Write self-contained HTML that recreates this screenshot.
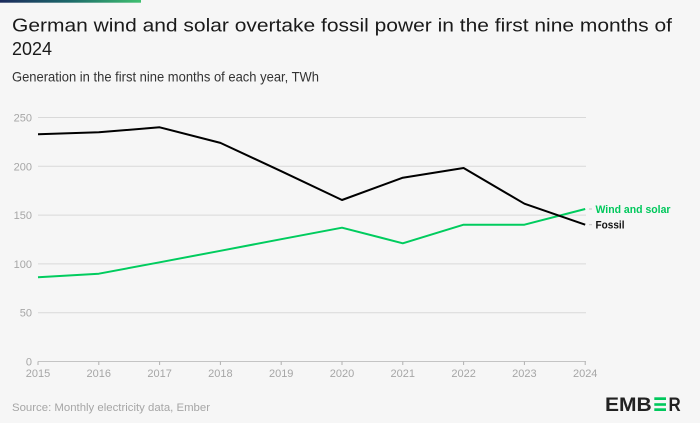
<!DOCTYPE html>
<html><head><meta charset="utf-8"><style>
html,body{margin:0;padding:0;background:#f6f6f6;}
svg{display:block;}
text{font-family:"Liberation Sans",sans-serif;}
</style></head><body>
<svg width="700" height="423" viewBox="0 0 700 423" xmlns="http://www.w3.org/2000/svg">
<defs><linearGradient id="g" x1="0" x2="1" y1="0" y2="0"><stop offset="0" stop-color="#1b2a5c"/><stop offset="0.5" stop-color="#1d6a6a"/><stop offset="1" stop-color="#3fc070"/></linearGradient></defs>
<rect width="700" height="423" fill="#f6f6f6"/>
<rect x="0" y="0" width="141" height="2.7" fill="url(#g)"/>
<text x="12" y="31.5" font-size="18" fill="#1a1a1a" textLength="660" lengthAdjust="spacingAndGlyphs">German wind and solar overtake fossil power in the first nine months of</text>
<text x="12" y="55" font-size="18" fill="#1a1a1a" textLength="40" lengthAdjust="spacingAndGlyphs">2024</text>
<text x="12" y="81.5" font-size="14" fill="#333" textLength="307" lengthAdjust="spacingAndGlyphs">Generation in the first nine months of each year, TWh</text>
<g stroke="#d9d9d9" stroke-width="1">
<line x1="38" x2="586" y1="117.5" y2="117.5"/>
<line x1="38" x2="586" y1="166.3" y2="166.3"/>
<line x1="38" x2="586" y1="215.1" y2="215.1"/>
<line x1="38" x2="586" y1="263.9" y2="263.9"/>
<line x1="38" x2="586" y1="312.7" y2="312.7"/>
</g>
<line x1="38" x2="586" y1="361.5" y2="361.5" stroke="#c4c4c4" stroke-width="1"/>
<g stroke="#b0b0b0" stroke-width="1">
<line x1="38" x2="38" y1="361.5" y2="365"/>
<line x1="98.8" x2="98.8" y1="361.5" y2="365"/>
<line x1="159.6" x2="159.6" y1="361.5" y2="365"/>
<line x1="220.4" x2="220.4" y1="361.5" y2="365"/>
<line x1="281.2" x2="281.2" y1="361.5" y2="365"/>
<line x1="342" x2="342" y1="361.5" y2="365"/>
<line x1="402.8" x2="402.8" y1="361.5" y2="365"/>
<line x1="463.6" x2="463.6" y1="361.5" y2="365"/>
<line x1="524.4" x2="524.4" y1="361.5" y2="365"/>
<line x1="585.2" x2="585.2" y1="361.5" y2="365"/>
</g>
<g font-size="11" fill="#a6a6a6" text-anchor="end">
<text x="32" y="121.5">250</text>
<text x="32" y="170.3">200</text>
<text x="32" y="219.1">150</text>
<text x="32" y="267.9">100</text>
<text x="32" y="316.7">50</text>
<text x="32" y="365.5">0</text>
</g>
<g font-size="11" fill="#a6a6a6" text-anchor="middle">
<text x="38" y="377">2015</text>
<text x="98.8" y="377">2016</text>
<text x="159.6" y="377">2017</text>
<text x="220.4" y="377">2018</text>
<text x="281.2" y="377">2019</text>
<text x="342" y="377">2020</text>
<text x="402.8" y="377">2021</text>
<text x="463.6" y="377">2022</text>
<text x="524.4" y="377">2023</text>
<text x="585.2" y="377">2024</text>
</g>
<polyline fill="none" stroke="#00cc5e" stroke-width="2" stroke-linejoin="round" points="38,277.3 98.8,273.7 159.6,262.3 220.4,250.8 281.2,239.2 342,227.7 402.8,243.3 463.6,224.7 524.4,224.7 585.2,209"/>
<polyline fill="none" stroke="#000" stroke-width="2" stroke-linejoin="round" points="38,134.3 98.8,132.3 159.6,127.3 220.4,142.9 281.2,171.2 342,200 402.8,177.7 463.6,168 524.4,203.7 585.2,224.7"/>
<line x1="589" x2="592" y1="209" y2="209" stroke="#c4c4c4" stroke-width="1"/>
<line x1="589" x2="592" y1="224.7" y2="224.7" stroke="#c4c4c4" stroke-width="1"/>
<text x="595.5" y="213" font-size="11" font-weight="bold" fill="#00c85c" textLength="75" lengthAdjust="spacingAndGlyphs">Wind and solar</text>
<text x="595.5" y="228.7" font-size="11" font-weight="bold" fill="#111" textLength="29" lengthAdjust="spacingAndGlyphs">Fossil</text>
<text x="12" y="411" font-size="11" fill="#a6a6a6" textLength="198" lengthAdjust="spacingAndGlyphs">Source: Monthly electricity data, Ember</text>
<text x="605" y="411" font-size="19" font-weight="bold" fill="#222" textLength="46.7" lengthAdjust="spacingAndGlyphs">EMB</text>
<rect x="654.3" y="397.3" width="11.7" height="2.7" fill="#00c85c"/>
<rect x="654.3" y="403.2" width="11.7" height="2.6" fill="#00c85c"/>
<rect x="654.3" y="408.3" width="11.7" height="2.7" fill="#00c85c"/>
<text x="668.5" y="411" font-size="19" font-weight="bold" fill="#222" textLength="12.2" lengthAdjust="spacingAndGlyphs">R</text>
</svg>
</body></html>
